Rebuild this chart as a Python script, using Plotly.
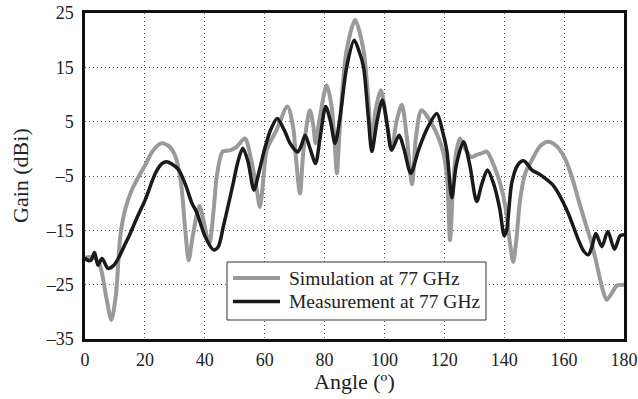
import plotly.graph_objects as go

sim_angle = [0, 3, 5, 7, 8.8, 10.3, 11.8, 13.5, 15.7, 18, 20.1, 22.5, 25.4, 28, 30.2, 32, 33.5, 34.6,
             36, 38.2, 39.5, 41.5, 43, 44, 46, 48.4, 50.5, 53.4, 55.5, 57.5, 58.4, 59.5, 60.7, 64, 67.6,
             69.5, 70.5, 71.8, 73, 75.1, 76.3, 77, 78.2, 80.7, 82.3, 83.5, 84.1, 85, 85.7, 87.4, 90.2,
             93, 94.6, 95.8, 97, 98.8, 100.5, 102.4, 104, 105.8, 107.5, 109.2, 110.5, 112.4, 116.3,
             119.7, 121, 121.9, 123, 124, 125.2, 127, 129, 130.8, 132.5, 134.2, 136.5, 138.6, 140.5,
             141.9, 143, 144, 145.3, 147, 149.2, 152, 154.7, 157.5, 160.3, 162.5, 164.8, 167, 169.2,
             171, 172.6, 174.2, 176, 177.5, 180]
sim_gain = [-20, -20, -21.5, -27, -31.5, -27, -16, -11, -7.5, -5, -3, -0.5, 1.0, 0.5, -1.4, -6, -15, -20.5,
            -16, -10.5, -13, -17.5, -11, -5.1, -0.5, -0.3, 0.3, 1.9, -2, -8, -10.7, -6, -0.2, 3.5, 7.8,
            4, -2, -8.2, 0, 7.1, 4, 1, 5, 11.7, 8, 0, -4.5, 3, 9, 18.2, 23.7,
            18.2, 9, 0.5, 7, 10.8, 6, -0.2, 5, 8.1, 2, -6.5, 2, 7.1, 4.1,
            -0.8, -6, -16.8, -6, -0.5, 1.9, 0, -1.5, -1.1, -0.8, -0.5, -3, -6.3, -11,
            -17.3, -20.8, -17, -9.4, -4.5, -2.1, 0.5, 1.3, 0.5, -1.8, -5, -9.4, -13.5, -17.4,
            -21.5, -25.4, -27.8, -26.5, -25.2, -25]

meas_angle = [0, 0.8, 2, 3.2, 4.3, 5.7, 7.7, 9.5, 11.3, 13, 14.6, 17.5, 20.1, 23.5, 25.5, 27.1, 29, 31.3,
              33.5, 35.7, 37.4, 40, 42.9, 44.5, 46.2, 48, 49.5, 51, 52.7, 54.5, 56.4, 58, 60, 62, 64.2,
              66.5, 68.5, 70.1, 71, 72.2, 73.5, 75.2, 77, 78.5, 80.4, 82, 83.5, 85.2, 87.4, 89.9, 91.5,
              93, 94.6, 95.8, 97.5, 99.3, 101, 102.4, 104.9, 106.5, 108.8, 111.5, 114.5, 117.5, 119.5,
              120.8, 122.5, 124, 126.4, 128.5, 130.8, 132.5, 134.4, 136.5, 138.5, 140, 140.8, 142.5,
              144.5, 146.4, 148, 149.2, 151.5, 153.6, 156, 158.1, 161.4, 164.8, 166.5, 168.1, 169.3,
              170.6, 172.6, 174.6, 176.8, 178.7, 180]
meas_gain = [-20, -20.5, -20.5, -19.1, -21.4, -20.2, -22, -21.5, -20, -18, -16.2, -12.5, -9.4, -4.5, -2.8,
             -2.4, -2.8, -3.9, -6.5, -10, -11.8, -16, -18.6, -18, -14.3, -10, -6.3, -2.5, 0.1, -2.5, -7.6,
             -4.5, 0, 3.5, 5.6, 3.5, 1.0, -0.2, -0.6, 0.5, 2.5, 0, -2.7, 2, 7.8, 5, 1.0, 5.9, 15.1, 20,
             18, 15.1, 5.9, -0.5, 5, 9.0, 4, -0.2, 2.5, 0, -4.5, 0, 4, 6.5, 3, -0.2, -9, -3, 1.3, -3,
             -9.7, -6.5, -3.9, -6.5, -11, -16, -15, -6.3, -3, -2.2, -3, -3.9, -4.6, -5.4, -6.5, -8.2,
             -11.9, -16.8, -18.8, -19.5, -18, -15.6, -18, -15.2, -18.5, -16, -15.8]

x_ticks = [0, 20, 40, 60, 80, 100, 120, 140, 160, 180]
y_ticks = [-35, -25, -15, -5, 5, 15, 25]
y_ticktext = ["–35", "–25", "–15", "–5", "5", "15", "25"]
series_names = ["Simulation at 77 GHz", "Measurement at 77 GHz"]
series_colors = ["#9a9a9a", "#1a1a1a"]
series_widths = [4, 3.5]

FONT = "Liberation Serif, Times New Roman, DejaVu Serif, serif"
TXT = "#222222"

fig = go.Figure()
for xs, ys, nm, col, w in zip([sim_angle, meas_angle], [sim_gain, meas_gain],
                              series_names, series_colors, series_widths):
    fig.add_trace(go.Scatter(x=xs, y=ys, mode="lines", name=nm, showlegend=False,
                             line=dict(color=col, width=w, shape="spline", smoothing=0.8)))

# Manual legend (box, line swatches, labels) in paper coordinates
L, R, T, B = 85, 624, 13, 339
def px(xp):
    return (xp - L) / (R - L)
def py(yp):
    return (B - yp) / (B - T)

shapes = [dict(type="rect", xref="paper", yref="paper",
               x0=px(227), x1=px(486), y0=py(320), y1=py(262),
               fillcolor="white", line=dict(color="#333333", width=1), layer="above")]
annotations = []
for i, (nm, col, w) in enumerate(zip(series_names, series_colors, series_widths)):
    yy = 278 + i * 23.5
    shapes.append(dict(type="line", xref="paper", yref="paper",
                       x0=px(233), x1=px(280), y0=py(yy), y1=py(yy),
                       line=dict(color=col, width=w), layer="above"))
    annotations.append(dict(text=nm, xref="paper", yref="paper", x=px(287), y=py(yy),
                            xanchor="left", yanchor="middle", showarrow=False,
                            font=dict(family=FONT, size=19.5, color=TXT)))

annotations.append(dict(text="Angle (º)", xref="paper", yref="paper", x=0.5, y=py(382),
                        xanchor="center", yanchor="middle", showarrow=False,
                        font=dict(family=FONT, size=22, color=TXT)))
annotations.append(dict(text="Gain (dBi)", xref="paper", yref="paper", x=px(20), y=0.5,
                        xanchor="center", yanchor="middle", showarrow=False, textangle=-90,
                        font=dict(family=FONT, size=22, color=TXT)))

fig.update_layout(
    width=638, height=399,
    margin=dict(l=L, r=638 - R, t=T, b=399 - B),
    paper_bgcolor="white", plot_bgcolor="white",
    font=dict(family=FONT, size=18, color=TXT),
    showlegend=False,
    shapes=shapes, annotations=annotations,
)
fig.update_xaxes(range=[0, 180], tickvals=x_ticks, ticktext=[str(v) for v in x_ticks],
                 showgrid=True, gridcolor="#555555", griddash="1px,3px", gridwidth=1,
                 showline=True, linecolor="#111111", linewidth=2.5, mirror=True,
                 ticks="", zeroline=False, ticklabelstandoff=3, automargin=False,
                 tickfont=dict(family=FONT, size=18, color=TXT))
fig.update_yaxes(range=[-35, 25], tickvals=y_ticks, ticktext=y_ticktext,
                 showgrid=True, gridcolor="#555555", griddash="1px,3px", gridwidth=1,
                 showline=True, linecolor="#111111", linewidth=2.5, mirror=True,
                 ticks="", zeroline=False, ticklabelstandoff=5, automargin=False,
                 tickfont=dict(family=FONT, size=18, color=TXT))

fig.write_html("out.html")
